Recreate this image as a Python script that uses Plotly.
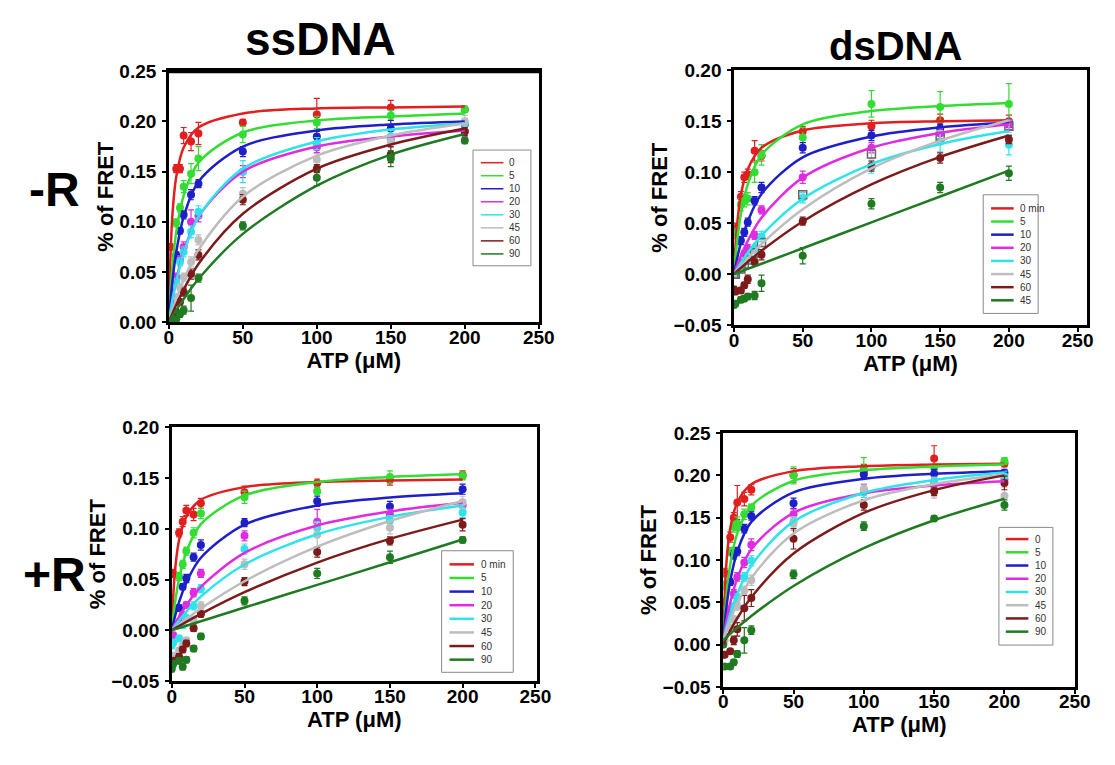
import plotly.graph_objects as go

W, H = 1115, 765

# ---------------- data ----------------
ATP_PTS = [0, 1, 5, 7.5, 10, 15, 20, 50, 100, 150, 200]
ATP_FIT = [0, 1, 2.5, 5, 10, 20, 50, 100, 150, 200]

COLORS = ["#e21f1f", "#33dd33", "#1f1fc8", "#e02be0", "#2fe3ea",
          "#bdbdbd", "#7d1b1b", "#1f7a22"]

LEG_SS_MR = ["0", "5", "10", "20", "30", "45", "60", "90"]
LEG_DS_MR = ["0 min", "5", "10", "20", "30", "45", "60", "45"]
LEG_SS_PR = ["0 min", "5", "10", "20", "30", "45", "60", "90"]
LEG_DS_PR = ["0", "5", "10", "20", "30", "45", "60", "90"]

# ssDNA, -R
SS_MR_PTS = [
    [0, 0.075, 0.153, 0.153, 0.186, 0.180, 0.188, 0.199, 0.207, 0.214, 0.212],
    [0, 0.050, 0.099, 0.114, 0.135, 0.148, 0.163, 0.187, 0.199, 0.206, 0.212],
    [0, 0.030, 0.067, 0.091, 0.107, 0.127, 0.138, 0.170, 0.185, 0.193, 0.197],
    [0, 0.020, 0.045, 0.062, 0.075, 0.100, 0.106, 0.150, 0.174, 0.182, 0.190],
    [0, 0.015, 0.040, 0.060, 0.070, 0.090, 0.110, 0.150, 0.178, 0.185, 0.198],
    [0, 0.010, 0.025, 0.035, 0.045, 0.060, 0.082, 0.128, 0.162, 0.180, 0.200],
    [0, 0.003, 0.010, 0.020, 0.030, 0.048, 0.067, 0.122, 0.153, 0.167, 0.190],
    [0, 0.000, 0.003, 0.008, 0.012, 0.024, 0.044, 0.096, 0.144, 0.163, 0.181],
]
SS_MR_ERR = [
    [0, 0.003, 0.004, 0.004, 0.008, 0.009, 0.011, 0.003, 0.016, 0.007, 0.003],
    [0, 0.004, 0.004, 0.004, 0.006, 0.010, 0.012, 0.008, 0.006, 0.005, 0.003],
    [0, 0.003, 0.003, 0.003, 0.004, 0.005, 0.004, 0.005, 0.005, 0.008, 0.004],
    [0, 0.003, 0.004, 0.004, 0.005, 0.012, 0.006, 0.006, 0.005, 0.005, 0.005],
    [0, 0.003, 0.004, 0.004, 0.005, 0.006, 0.006, 0.011, 0.006, 0.006, 0.005],
    [0, 0.002, 0.003, 0.003, 0.004, 0.005, 0.005, 0.006, 0.006, 0.006, 0.006],
    [0, 0.002, 0.003, 0.003, 0.004, 0.005, 0.005, 0.005, 0.004, 0.008, 0.004],
    [0, 0.002, 0.002, 0.003, 0.004, 0.013, 0.004, 0.004, 0.008, 0.008, 0.003],
]
SS_MR_FIT = [
    [0, 0.062, 0.109, 0.145, 0.174, 0.194, 0.208, 0.213, 0.214, 0.215],
    [0, 0.027, 0.057, 0.090, 0.126, 0.159, 0.189, 0.201, 0.205, 0.208],
    [0, 0.019, 0.042, 0.070, 0.105, 0.140, 0.175, 0.191, 0.197, 0.200],
    [0, 0.010, 0.023, 0.042, 0.070, 0.105, 0.150, 0.175, 0.185, 0.191],
    [0, 0.0096, 0.0224, 0.0407, 0.0688, 0.105, 0.153, 0.180, 0.192, 0.198],
    [0, 0.005, 0.012, 0.023, 0.042, 0.072, 0.125, 0.166, 0.186, 0.198],
    [0, 0.0037, 0.009, 0.0173, 0.0325, 0.058, 0.108, 0.153, 0.177, 0.193],
    [0, 0.0025, 0.0061, 0.012, 0.023, 0.043, 0.088, 0.136, 0.167, 0.1875],
]

# dsDNA, -R
DS_MR_PTS = [
    [0.005, 0.045, 0.076, 0.095, 0.098, 0.121, 0.116, 0.140, 0.145, 0.151, 0.150],
    [0.000, 0.040, 0.068, 0.072, 0.074, 0.100, 0.117, 0.134, 0.167, 0.164, 0.167],
    [0.000, 0.012, 0.033, 0.041, 0.051, 0.072, 0.085, 0.124, 0.136, 0.143, 0.148],
    [0.000, 0.003, 0.012, 0.020, 0.025, 0.038, 0.063, 0.095, 0.124, 0.138, 0.147],
    [0.000, 0.002, 0.008, 0.012, 0.016, 0.025, 0.037, 0.075, 0.105, 0.130, 0.127],
    [0.000, 0.000, 0.005, 0.010, 0.014, 0.021, 0.031, 0.078, 0.118, 0.135, 0.145],
    [-0.015, -0.017, -0.016, -0.011, -0.005, 0.012, 0.019, 0.052, 0.106, 0.114, 0.132],
    [-0.030, -0.029, -0.025, -0.024, -0.022, -0.021, -0.009, 0.018, 0.069, 0.085, 0.099],
]
DS_MR_ERR = [
    [0.003, 0.005, 0.005, 0.005, 0.005, 0.010, 0.005, 0.005, 0.006, 0.006, 0.006],
    [0.003, 0.005, 0.006, 0.006, 0.006, 0.010, 0.010, 0.010, 0.013, 0.015, 0.020],
    [0.003, 0.003, 0.004, 0.004, 0.004, 0.004, 0.005, 0.005, 0.005, 0.004, 0.004],
    [0.003, 0.003, 0.003, 0.003, 0.004, 0.004, 0.004, 0.006, 0.005, 0.005, 0.005],
    [0.003, 0.003, 0.003, 0.003, 0.003, 0.004, 0.005, 0.005, 0.006, 0.010, 0.010],
    [0.003, 0.003, 0.003, 0.003, 0.003, 0.004, 0.004, 0.004, 0.005, 0.006, 0.006],
    [0.003, 0.003, 0.003, 0.003, 0.004, 0.004, 0.005, 0.004, 0.005, 0.005, 0.004],
    [0.003, 0.003, 0.003, 0.003, 0.003, 0.004, 0.008, 0.008, 0.005, 0.005, 0.007],
]
DS_MR_FIT = [
    [0, 0.026, 0.052, 0.078, 0.103, 0.124, 0.141, 0.148, 0.150, 0.151],
    [0, 0.016, 0.035, 0.059, 0.088, 0.117, 0.147, 0.160, 0.165, 0.168],
    [0, 0.0072, 0.0168, 0.0306, 0.0516, 0.0786, 0.1146, 0.135, 0.144, 0.1487],
    [0, 0.0039, 0.0095, 0.018, 0.0327, 0.0554, 0.0947, 0.124, 0.1385, 0.147],
    [0, 0.0023, 0.0057, 0.0111, 0.021, 0.038, 0.074, 0.108, 0.1277, 0.1404],
    [0, 0.0016, 0.0041, 0.008, 0.0156, 0.0295, 0.0636, 0.1037, 0.131, 0.151],
    [0, 0.0012, 0.0031, 0.0061, 0.012, 0.023, 0.0517, 0.088, 0.115, 0.136],
    [0, 0.0005, 0.0013, 0.0025, 0.0051, 0.0102, 0.0254, 0.0508, 0.0762, 0.1016],
]

# ssDNA, +R
SS_PR_PTS = [
    [0.020, 0.056, 0.096, 0.107, 0.118, 0.114, 0.125, 0.136, 0.145, 0.148, 0.153],
    [0.005, 0.020, 0.053, 0.065, 0.078, 0.096, 0.115, 0.131, 0.137, 0.151, 0.152],
    [-0.010, 0.005, 0.022, 0.043, 0.051, 0.072, 0.084, 0.106, 0.127, 0.122, 0.139],
    [-0.010, -0.005, 0.008, 0.015, 0.025, 0.037, 0.056, 0.093, 0.107, 0.114, 0.123],
    [-0.015, -0.012, -0.008, 0.005, 0.012, 0.024, 0.041, 0.080, 0.101, 0.108, 0.116],
    [-0.030, -0.025, -0.020, -0.015, -0.010, 0.010, 0.024, 0.065, 0.094, 0.101, 0.126],
    [-0.035, -0.030, -0.026, -0.019, -0.013, 0.002, 0.016, 0.048, 0.077, 0.088, 0.104],
    [-0.038, -0.033, -0.030, -0.036, -0.029, -0.018, -0.006, 0.029, 0.056, 0.072, 0.089],
]
SS_PR_ERR = [
    [0.003, 0.004, 0.004, 0.005, 0.005, 0.006, 0.005, 0.006, 0.004, 0.005, 0.004],
    [0.003, 0.003, 0.004, 0.004, 0.004, 0.005, 0.005, 0.006, 0.004, 0.006, 0.004],
    [0.003, 0.003, 0.003, 0.003, 0.004, 0.004, 0.005, 0.004, 0.005, 0.005, 0.005],
    [0.003, 0.003, 0.003, 0.003, 0.003, 0.004, 0.004, 0.005, 0.012, 0.005, 0.005],
    [0.003, 0.003, 0.003, 0.003, 0.003, 0.004, 0.004, 0.005, 0.006, 0.005, 0.005],
    [0.003, 0.003, 0.003, 0.003, 0.003, 0.004, 0.004, 0.005, 0.012, 0.006, 0.006],
    [0.003, 0.003, 0.003, 0.003, 0.003, 0.003, 0.003, 0.004, 0.005, 0.004, 0.006],
    [0.003, 0.003, 0.003, 0.003, 0.003, 0.003, 0.003, 0.004, 0.005, 0.006, 0.003],
]
SS_PR_FIT = [
    [0, 0.0336, 0.063, 0.0888, 0.112, 0.1285, 0.141, 0.146, 0.1475, 0.1484],
    [0, 0.0135, 0.030, 0.0506, 0.0771, 0.1045, 0.1328, 0.146, 0.151, 0.1536],
    [0, 0.0065, 0.0153, 0.0278, 0.0469, 0.0714, 0.104, 0.123, 0.1308, 0.135],
    [0, 0.0029, 0.007, 0.0133, 0.0246, 0.0427, 0.0762, 0.1032, 0.117, 0.1255],
    [0, 0.002, 0.005, 0.0097, 0.0184, 0.0333, 0.0648, 0.0946, 0.1117, 0.1229],
    [0, 0.0012, 0.0029, 0.0057, 0.0112, 0.0215, 0.0483, 0.0824, 0.1077, 0.1273],
    [0, 0.0009, 0.0021, 0.0042, 0.0083, 0.0162, 0.0375, 0.0667, 0.090, 0.109],
    [0, 0.00045, 0.0011, 0.0022, 0.0045, 0.0089, 0.0224, 0.0447, 0.067, 0.0894],
]

# dsDNA, +R
DS_PR_PTS = [
    [0.050, 0.085, 0.127, 0.150, 0.168, 0.172, 0.183, 0.200, 0.205, 0.220, 0.214],
    [0.030, 0.070, 0.110, 0.139, 0.143, 0.154, 0.162, 0.200, 0.208, 0.209, 0.217],
    [0.010, 0.037, 0.074, 0.106, 0.110, 0.137, 0.152, 0.167, 0.201, 0.202, 0.203],
    [0.005, 0.020, 0.040, 0.060, 0.080, 0.097, 0.118, 0.154, 0.183, 0.190, 0.195],
    [0.000, 0.010, 0.030, 0.045, 0.055, 0.080, 0.099, 0.145, 0.180, 0.192, 0.199],
    [0.000, 0.005, 0.020, 0.030, 0.045, 0.064, 0.076, 0.143, 0.184, 0.185, 0.176],
    [-0.012, -0.012, -0.008, 0.005, 0.018, 0.043, 0.055, 0.125, 0.165, 0.181, 0.191],
    [0.000, -0.026, -0.026, -0.021, -0.011, 0.005, 0.017, 0.083, 0.140, 0.149, 0.165],
]
DS_PR_ERR = [
    [0.004, 0.005, 0.006, 0.006, 0.020, 0.008, 0.006, 0.008, 0.008, 0.015, 0.004],
    [0.004, 0.005, 0.005, 0.006, 0.008, 0.006, 0.004, 0.010, 0.013, 0.004, 0.004],
    [0.003, 0.004, 0.004, 0.005, 0.005, 0.005, 0.005, 0.006, 0.005, 0.005, 0.004],
    [0.003, 0.004, 0.004, 0.005, 0.005, 0.006, 0.007, 0.006, 0.006, 0.005, 0.005],
    [0.003, 0.003, 0.004, 0.004, 0.005, 0.005, 0.006, 0.006, 0.006, 0.006, 0.006],
    [0.003, 0.003, 0.003, 0.004, 0.004, 0.005, 0.006, 0.008, 0.006, 0.012, 0.010],
    [0.003, 0.003, 0.003, 0.005, 0.008, 0.015, 0.010, 0.012, 0.006, 0.005, 0.008],
    [0.003, 0.003, 0.003, 0.003, 0.004, 0.015, 0.005, 0.005, 0.005, 0.003, 0.006],
]
DS_PR_FIT = [
    [0.005, 0.058, 0.1014, 0.1375, 0.168, 0.1894, 0.205, 0.2108, 0.2128, 0.2138],
    [0.005, 0.0319, 0.0616, 0.0946, 0.1315, 0.164, 0.1936, 0.206, 0.2104, 0.2127],
    [0.005, 0.0241, 0.047, 0.075, 0.110, 0.145, 0.180, 0.1959, 0.2019, 0.205],
    [0.005, 0.0158, 0.030, 0.0496, 0.0782, 0.1128, 0.1557, 0.1787, 0.188, 0.193],
    [0.005, 0.012, 0.0217, 0.036, 0.0597, 0.0935, 0.1453, 0.1792, 0.1945, 0.2033],
    [0.005, 0.0102, 0.0176, 0.029, 0.0487, 0.0788, 0.1313, 0.1706, 0.1896, 0.2009],
    [0.0, 0.0035, 0.0085, 0.0165, 0.0311, 0.056, 0.1077, 0.1556, 0.1826, 0.200],
    [0.005, 0.0066, 0.0089, 0.0127, 0.020, 0.0338, 0.0693, 0.114, 0.147, 0.1724],
]

# ---------------- layout helpers ----------------
FONT = "Liberation Sans, Arial, sans-serif"

def px2x(p):
    return p / W

def px2y(p):
    return 1 - p / H

# panel pixel boxes: (left, right, top, bottom); legend box (l, t, r, b), entry pitch
PANELS = [
    dict(box=(167, 544, 63, 321), xr=[0, 250], yr=[0, 0.25],
         leg=(477, 144, 536, 263), row0=157, pitch=13.4, ln=(485, 508), tx=512, lw_leg=1.5,
         pts=SS_MR_PTS, err=SS_MR_ERR, fit=SS_MR_FIT, labels=LEG_SS_MR),
    dict(box=(743, 1103, 62, 324), xr=[0, 257], yr=[-0.05, 0.20],
         leg=(997, 190, 1053, 312), row0=204, pitch=13.5, ln=(1005, 1028), tx=1032, lw_leg=2.5,
         pts=DS_MR_PTS, err=DS_MR_ERR, fit=DS_MR_FIT, labels=LEG_DS_MR),
    dict(box=(170, 542, 429, 690), xr=[0, 251], yr=[-0.05, 0.20],
         leg=(445, 556, 518, 681), row0=570, pitch=14.0, ln=(453, 478), tx=483, lw_leg=2.5,
         pts=SS_PR_PTS, err=SS_PR_ERR, fit=SS_PR_FIT, labels=LEG_SS_PR),
    dict(box=(732, 1091, 435, 696), xr=[0, 250.5], yr=[-0.05, 0.25],
         leg=(1013, 532, 1068, 653), row0=544, pitch=13.6, ln=(1020, 1043), tx=1048, lw_leg=2.5,
         pts=DS_PR_PTS, err=DS_PR_ERR, fit=DS_PR_FIT, labels=LEG_DS_PR),
]

fig = go.Figure()
layout = dict(
    width=W, height=H,
    margin=dict(l=0, r=0, t=0, b=0),
    paper_bgcolor="white", plot_bgcolor="white",
    showlegend=False,
    font=dict(family=FONT, color="black"),
)
shapes = []
ann = []

def text(s, x, y, size, angle=0, xanchor="center", color="black", bold=True):
    ann.append(dict(text=s, x=px2x(x), y=px2y(y), xref="paper", yref="paper",
                    showarrow=False, textangle=angle, xanchor=xanchor, yanchor="middle",
                    font=dict(family=FONT, size=size, color=color,
                              weight="bold" if bold else "normal")))

for i, p in enumerate(PANELS):
    n = "" if i == 0 else str(i + 1)
    xa, ya = "x" + n, "y" + n
    l, r, t, b = p["box"]
    axis_common = dict(
        showline=True, linecolor="black", linewidth=2.5, mirror=True,
        ticks="outside", ticklen=4, tickwidth=1.5, tickcolor="black",
        showgrid=False, zeroline=False,
        tickfont=dict(family=FONT, size=19, color="black", weight="bold"),
        title_font=dict(family=FONT, size=22, color="black", weight="bold"),
    )
    layout["xaxis" + n] = dict(axis_common, domain=[px2x(l), px2x(r)], range=p["xr"],
                               dtick=50, tick0=0, anchor=ya, ticklabelstandoff=-8,
                               title=dict(text="ATP (\u03bcM)", standoff=0))
    layout["yaxis" + n] = dict(axis_common, domain=[px2y(b), px2y(t)], range=p["yr"],
                               dtick=0.05, tick0=0, tickformat=".2f", anchor=xa,
                               ticklabelstandoff=2,
                               title=dict(text="% of FRET", standoff=0))
    for k in range(8):
        col = COLORS[k]
        symbol = "circle"
        mcol = col
        if i == 1 and k == 5:
            symbol = "square-open"
            mcol = "#666666"
        fig.add_trace(go.Scatter(
            x=ATP_PTS, y=p["pts"][k], mode="markers",
            marker=dict(color=mcol, size=8, symbol=symbol,
                        line=dict(width=1.5 if symbol == "square-open" else 0, color=mcol)),
            error_y=dict(type="data", array=p["err"][k], color=col, thickness=1.2, width=3),
            xaxis=xa, yaxis=ya, showlegend=False, hoverinfo="skip",
        ))
    for k in range(8):
        col = COLORS[k]
        fig.add_trace(go.Scatter(
            x=ATP_FIT, y=p["fit"][k], mode="lines",
            line=dict(color=col, width=2.5, shape="spline", smoothing=0.9),
            xaxis=xa, yaxis=ya, name=p["labels"][k], hoverinfo="skip",
        ))
    # legend box
    bl, bt, br, bb = p["leg"]
    shapes.append(dict(type="rect", xref="paper", yref="paper",
                       x0=px2x(bl), x1=px2x(br), y0=px2y(bb), y1=px2y(bt),
                       line=dict(color="#8a8a8a", width=1), fillcolor="white", layer="above"))
    x0, x1 = p["ln"]
    for k in range(8):
        yy = p["row0"] + k * p["pitch"]
        shapes.append(dict(type="line", xref="paper", yref="paper",
                           x0=px2x(x0), x1=px2x(x1), y0=px2y(yy), y1=px2y(yy),
                           line=dict(color=COLORS[k], width=p["lw_leg"]), layer="above"))
        text(p["labels"][k], p["tx"], yy, 10, xanchor="left", color="#333", bold=False)

fig.update_layout(**layout)

# thick top border on first panel
l, r, t, b = PANELS[0]["box"]
shapes.append(dict(type="line", xref="paper", yref="paper",
                   x0=px2x(l - 1), x1=px2x(r + 1), y0=px2y(t), y1=px2y(t),
                   line=dict(color="black", width=4)))

text("ssDNA", 322, 30, 46)
text("dsDNA", 908, 37, 40)
text("-R", 50, 185, 48)
text("+R", 50, 580, 48)
fig.update_layout(annotations=ann, shapes=shapes)

fig.write_html("out.html")
